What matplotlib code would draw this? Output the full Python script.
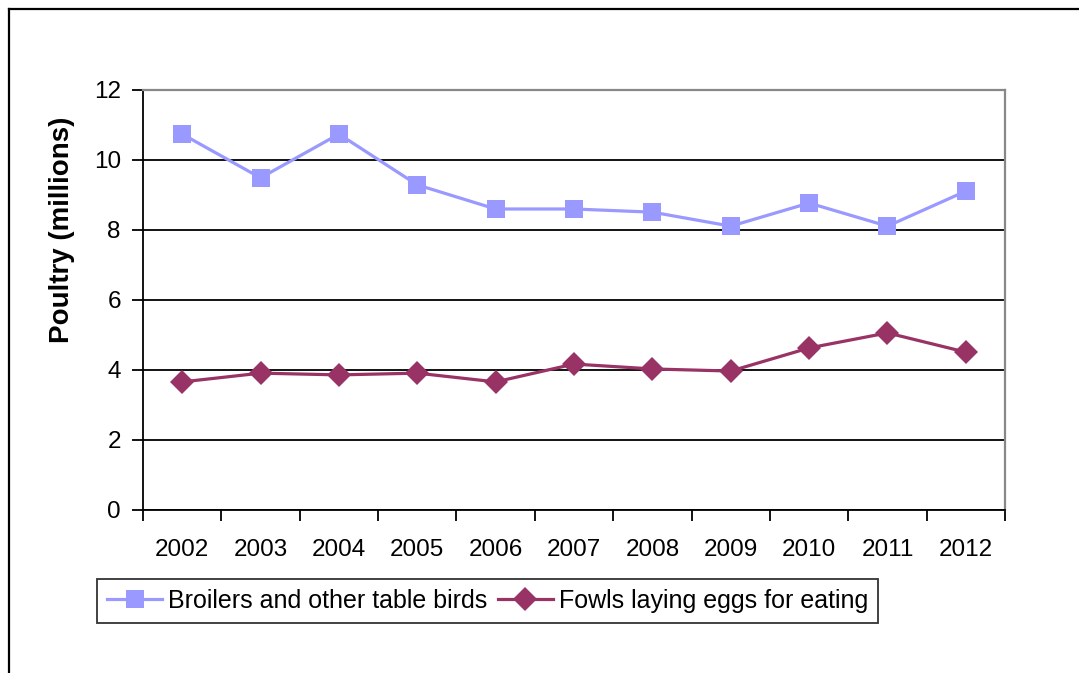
import matplotlib
matplotlib.use("Agg")
import matplotlib.pyplot as plt
from matplotlib.lines import Line2D
from matplotlib.ticker import FixedLocator

plt.rcParams['font.family'] = ['Liberation Sans', 'DejaVu Sans']

years = ['2002', '2003', '2004', '2005', '2006', '2007', '2008', '2009', '2010', '2011', '2012']
broilers = [10.74, 9.49, 10.74, 9.29, 8.6, 8.6, 8.51, 8.11, 8.77, 8.11, 9.11]
fowls = [3.66, 3.91, 3.86, 3.91, 3.66, 4.17, 4.03, 3.97, 4.63, 5.06, 4.51]

W, H = 1079, 673
fig = plt.figure(figsize=(W / 100, H / 100), dpi=100)
fig.patch.set_facecolor('white')

# outer chart frame (top and left edges visible)
fig.add_artist(Line2D([9 / W, 1.0], [1 - 9 / H, 1 - 9 / H], color='black', lw=1.6,
                      transform=fig.transFigure))
fig.add_artist(Line2D([9 / W, 9 / W], [0.0, 1 - 9 / H], color='black', lw=1.6,
                      transform=fig.transFigure))

ax = fig.add_axes([143 / W, 1 - 510 / H, (1005 - 143) / W, (510 - 90) / H])

x = list(range(len(years)))
ax.plot(x, broilers, color='#9999FF', lw=2.3, marker='s', markersize=13.5,
        markeredgewidth=0, label='Broilers and other table birds', zorder=3)
ax.plot(x, fowls, color='#993366', lw=2.3, marker='D', markersize=12.5,
        markeredgewidth=0, label='Fowls laying eggs for eating', zorder=3)

ax.set_xlim(-0.5, len(years) - 0.5)
ax.set_ylim(0, 12)
ax.set_yticks(range(0, 13, 2))
ax.yaxis.grid(True, color='black', lw=1.3)
ax.set_axisbelow(True)

# category boundaries carry the tick marks, labels sit at the centres
ax.xaxis.set_major_locator(FixedLocator([i - 0.5 for i in range(len(years) + 1)]))
ax.xaxis.set_minor_locator(FixedLocator(x))
ax.set_xticklabels([])
ax.set_xticklabels(years, minor=True)
ax.tick_params(axis='x', which='major', length=8, width=1.3, direction='out')
ax.tick_params(axis='x', which='minor', length=0, pad=21, labelsize=17.5)
ax.tick_params(axis='y', length=8, width=1.3, direction='out', pad=8, labelsize=17.5)

for side in ('top', 'right'):
    ax.spines[side].set_color('#888888')
    ax.spines[side].set_linewidth(1.6)
for side in ('left', 'bottom'):
    ax.spines[side].set_color('black')
    ax.spines[side].set_linewidth(1.3)

ax.set_ylabel('Poultry (millions)', fontsize=20, fontweight='bold')
ax.yaxis.set_label_coords(-(143 - 75) / (1005 - 143), (510 - 230) / (510 - 90))

leg = fig.legend(loc='center', bbox_to_anchor=((97 + 878) / 2 / W, 1 - 601 / H),
                 ncol=2, fontsize=18, frameon=True, fancybox=False,
                 edgecolor='black', handlelength=2.2, handletextpad=0.25,
                 columnspacing=0.4, borderpad=0.4, borderaxespad=0,
                 markerscale=1.0)
leg.get_frame().set_linewidth(1.3)

fig.savefig('out.png', dpi=100)
